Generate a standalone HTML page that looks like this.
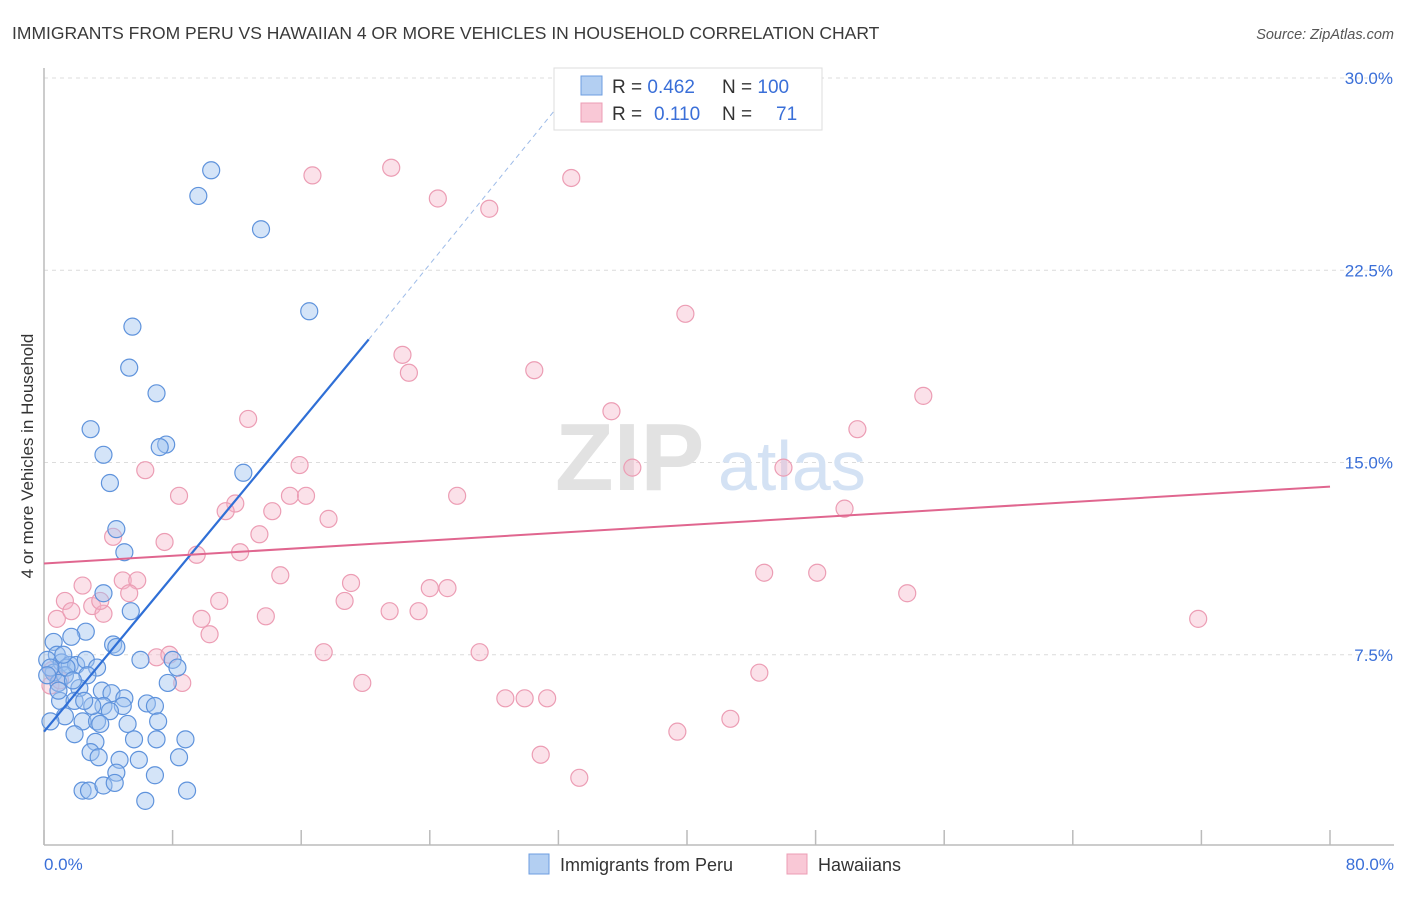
<!DOCTYPE html>
<html><head><meta charset="utf-8"><style>
body{margin:0;background:#fff;font-family:"Liberation Sans",sans-serif;}
svg text{font-family:"Liberation Sans",sans-serif;}
</style></head><body>
<svg id="chart" width="1406" height="892" viewBox="0 0 1406 892" xmlns="http://www.w3.org/2000/svg">
<text x="12" y="39" font-size="17.5" fill="#3a3a3a">IMMIGRANTS FROM PERU VS HAWAIIAN 4 OR MORE VEHICLES IN HOUSEHOLD CORRELATION CHART</text>
<text x="1394" y="39" font-size="14.5" fill="#555" font-style="italic" text-anchor="end">Source: ZipAtlas.com</text>
<g id="grid"></g>
<g id="axes"></g>
<text x="555" y="490" font-size="96" font-family="Liberation Serif" fill="#e2e2e2" font-weight="bold">ZIP</text>
<text x="718" y="490" font-size="70" fill="#d4e2f4">atlas</text>
<g id="pinkpts"></g>
<g id="bluepts"></g>
<g id="lines"></g>
<text transform="translate(33,456) rotate(-90)" font-size="17" fill="#333" text-anchor="middle">4 or more Vehicles in Household</text>
<text x="44" y="870" font-size="17" fill="#3a6fd8">0.0%</text>
<text x="1394" y="870" font-size="17" fill="#3a6fd8" text-anchor="end">80.0%</text>
<g>
<rect x="554" y="68" width="268" height="62" fill="#fff" stroke="#ddd"/>
<rect x="581" y="76" width="21" height="19" fill="#b3cff2" stroke="#6c9ee0"/>
<rect x="581" y="103" width="21" height="19" fill="#f9c8d6" stroke="#ec9db4"/>
<text x="612" y="93" font-size="19" fill="#333">R = <tspan fill="#3a6fd8">0.462</tspan></text>
<text x="722" y="93" font-size="19" fill="#333">N = <tspan fill="#3a6fd8">100</tspan></text>
<text x="612" y="120" font-size="19" fill="#333">R =  <tspan fill="#3a6fd8" x="654">0.110</tspan></text>
<text x="722" y="120" font-size="19" fill="#333">N = <tspan fill="#3a6fd8" x="776">71</tspan></text>
</g>
<g>
<rect x="529" y="854" width="20" height="20" fill="#b3cff2" stroke="#6c9ee0"/>
<text x="560" y="871" font-size="18" fill="#333">Immigrants from Peru</text>
<rect x="787" y="854" width="20" height="20" fill="#f9c8d6" stroke="#ec9db4"/>
<text x="818" y="871" font-size="18" fill="#333">Hawaiians</text>
</g>
</svg>
<script>
const yTicks=[7.5,15,22.5,30];
const yTickLabels=["7.5%","15.0%","22.5%","30.0%"];
const xTicks=[0,8,16,24,32,40,48,56,64,72,80];
const peruX=[10.4,9.6,13.5,16.5,5.5,5.3,7.0,2.9,7.6,7.2,3.7,4.1,12.4,4.5,5.0,3.7,5.4,2.6,4.3,4.5,0.6,1.7,0.8,0.2,1.1,1.6,2.0,2.6,3.3,0.6,1.3,0.9,2.7,6.0,8.0,8.3,7.7,2.2,3.6,1.0,1.9,4.2,5.0,6.4,6.9,3.7,4.9,4.1,1.3,2.4,3.3,3.5,5.2,7.1,1.9,3.2,5.6,7.0,8.8,2.9,3.4,4.7,5.9,8.4,4.5,6.9,2.4,2.8,3.7,4.4,6.3,8.9,0.4,0.4,0.2,1.4,0.9,1.2,1.8,3.0,2.5];
const peruY=[26.4,25.4,24.1,20.9,20.3,18.7,17.7,16.3,15.7,15.6,15.3,14.2,14.6,12.4,11.5,9.9,9.2,8.4,7.9,7.8,8.0,8.2,7.5,7.3,7.2,7.1,7.1,7.3,7.0,6.8,6.7,6.4,6.7,7.3,7.3,7.0,6.4,6.2,6.1,5.7,5.7,6.0,5.8,5.6,5.5,5.5,5.5,5.3,5.1,4.9,4.9,4.8,4.8,4.9,4.4,4.1,4.2,4.2,4.2,3.7,3.5,3.4,3.4,3.5,2.9,2.8,2.2,2.2,2.4,2.5,1.8,2.2,4.9,7.0,6.7,7.0,6.1,7.5,6.5,5.5,5.7];
const hawX=[21.6,16.7,32.8,24.5,27.7,39.9,22.3,22.7,30.5,54.7,12.7,35.3,50.6,15.9,36.6,46.0,6.3,8.4,11.9,15.3,16.3,25.7,11.3,14.2,17.7,49.8,4.3,7.5,13.4,9.5,12.2,14.7,4.9,5.8,2.4,19.1,24.0,25.1,44.8,48.1,1.3,3.0,5.3,9.8,10.9,18.7,21.5,23.3,13.8,53.7,71.8,0.8,3.7,10.3,1.7,7.0,7.8,17.4,27.1,8.6,19.8,44.5,0.4,28.7,29.9,31.3,42.7,39.4,30.9,33.3,3.5,0.5,1.0];
const hawY=[26.5,26.2,26.1,25.3,24.9,20.8,19.2,18.5,18.6,17.6,16.7,17.0,16.3,14.9,14.8,14.8,14.7,13.7,13.4,13.7,13.7,13.7,13.1,13.1,12.8,13.2,12.1,11.9,12.2,11.4,11.5,10.6,10.4,10.4,10.2,10.3,10.1,10.1,10.7,10.7,9.6,9.4,9.9,8.9,9.6,9.6,9.2,9.2,9.0,9.9,8.9,8.9,9.1,8.3,9.2,7.4,7.5,7.6,7.6,6.4,6.4,6.8,6.3,5.8,5.8,5.8,5.0,4.5,3.6,2.7,9.6,6.9,6.5];
const peruTrendX=[0,20.2];
const peruTrendY=[4.5,19.8];
const peruDashX=[20.2,33.4];
const peruDashY=[19.8,30];
const hawTrendX=[0,80];
const hawTrendY=[11.06,14.06];

const L=44,R=1330,T=78,B=847;
const sx=v=>L+(v/80)*(R-L);
const sy=v=>B-(v/30)*(B-T);
const NS="http://www.w3.org/2000/svg";
function mk(tag,attrs,parent){const e=document.createElementNS(NS,tag);for(const k in attrs)e.setAttribute(k,attrs[k]);parent.appendChild(e);return e;}
const grid=document.getElementById('grid'),axes=document.getElementById('axes');
yTicks.forEach((t,i)=>{
  const g=mk('line',{x1:L,x2:1394,y1:sy(t),y2:sy(t),stroke:'#dcdcdc','stroke-dasharray':'4,4'},grid);
  
  
  const tx=mk('text',{x:1393,y:sy(t)+6,'font-size':17,fill:'#3a6fd8','text-anchor':'end'},grid);
  tx.textContent=yTickLabels[i];
  
  
});
const ya=mk('line',{x1:L,x2:L,y1:68,y2:845,stroke:'#bbb','stroke-width':1.5},axes);


const xa=mk('line',{x1:L,x2:1394,y1:845,y2:845,stroke:'#bbb','stroke-width':1.5},axes);


xTicks.forEach(t=>{
  const k=mk('line',{x1:sx(t),x2:sx(t),y1:830,y2:845,stroke:'#bbb','stroke-width':1.5},axes);
  
  
});
const pp=document.getElementById('pinkpts');
hawX.forEach((x,i)=>{
  const c=mk('circle',{cx:sx(x),cy:sy(hawY[i]),r:8.5,fill:'rgba(246,180,200,0.4)',stroke:'#ec9db4','stroke-width':1.2},pp);
  
  
});
const bp=document.getElementById('bluepts');
peruX.forEach((x,i)=>{
  const c=mk('circle',{cx:sx(x),cy:sy(peruY[i]),r:8.5,fill:'rgba(160,196,240,0.45)',stroke:'#5f93dc','stroke-width':1.2},bp);
  
  
});
const ln=document.getElementById('lines');
const l1=mk('line',{x1:sx(peruTrendX[0]),y1:sy(peruTrendY[0]),x2:sx(peruTrendX[1]),y2:sy(peruTrendY[1]),stroke:'#2f6fd6','stroke-width':2.2},ln);


const l2=mk('line',{x1:sx(peruDashX[0]),y1:sy(peruDashY[0]),x2:sx(peruDashX[1]),y2:sy(peruDashY[1]),stroke:'#9dbbe8','stroke-width':1,'stroke-dasharray':'5,4'},ln);


const l3=mk('line',{x1:sx(hawTrendX[0]),y1:sy(hawTrendY[0]),x2:sx(hawTrendX[1]),y2:sy(hawTrendY[1]),stroke:'#e0668f','stroke-width':2},ln);


</script>
</body></html>
